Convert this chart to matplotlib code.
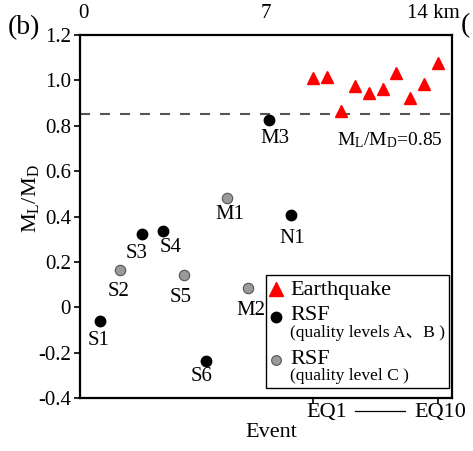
import matplotlib
matplotlib.use("Agg")
import matplotlib.pyplot as plt
from matplotlib.patches import Rectangle
import matplotlib.transforms as mtransforms

plt.rcParams['font.family'] = ['Liberation Serif', 'Noto Sans CJK JP', 'DejaVu Sans']
plt.rcParams['mathtext.fontset'] = 'custom'
plt.rcParams['mathtext.rm'] = 'Liberation Serif'
plt.rcParams['mathtext.it'] = 'Liberation Serif:italic'

# ---- data ----
# RSF events (position along profile in km, M_L/M_D ratio)
rsf_names = ['S1', 'S2', 'S3', 'S4', 'S5', 'S6', 'M1', 'M2', 'M3', 'N1']
rsf_x = [0.65, 1.43, 2.26, 3.05, 3.86, 4.71, 5.51, 6.30, 7.12, 7.95]
rsf_y = [-0.061, 0.163, 0.323, 0.337, 0.141, -0.238, 0.481, 0.084, 0.824, 0.408]
rsf_quality = ['AB', 'C', 'AB', 'AB', 'C', 'AB', 'C', 'C', 'AB', 'AB']
# label offsets (points)
rsf_lab_dx = [-1, -1, -4, 6, -2, -3, 2, 2, 4, 1]
rsf_lab_dy = [-14, -15, -14, -12, -16, -11, -12, -16, -13, -17]

# earthquakes EQ1..EQ10
eq_x = [8.80, 9.33, 9.87, 10.40, 10.94, 11.48, 11.97, 12.51, 13.04, 13.58]
eq_y = [1.010, 1.014, 0.864, 0.974, 0.943, 0.961, 1.032, 0.921, 0.983, 1.076]

threshold = 0.85
yticks = [-0.4, -0.2, 0, 0.2, 0.4, 0.6, 0.8, 1.0, 1.2]
ytick_labels = ['-0.4', '-0.2', '0', '0.2', '0.4', '0.6', '0.8', '1.0', '1.2']
top_ticks = [0, 7]
top_labels = ['0', '7']

fig = plt.figure(figsize=(4.73, 4.51), dpi=100)
ax = fig.add_axes([80/473, 53/451, 372/473, 363/451])

FS = 15
FL = 16

ab_x = [x for x, q in zip(rsf_x, rsf_quality) if q == 'AB']
ab_y = [y for y, q in zip(rsf_y, rsf_quality) if q == 'AB']
c_x = [x for x, q in zip(rsf_x, rsf_quality) if q == 'C']
c_y = [y for y, q in zip(rsf_y, rsf_quality) if q == 'C']

ax.plot(eq_x, eq_y, linestyle='none', marker='^', markersize=8,
        color='#ff0000', markeredgecolor='#ff0000', zorder=3)
ax.plot(ab_x, ab_y, linestyle='none', marker='o', markersize=7.5,
        color='black', zorder=3)
ax.plot(c_x, c_y, linestyle='none', marker='o', markersize=7.5,
        markerfacecolor='#9a9a9a', markeredgecolor='#555555',
        markeredgewidth=0.8, zorder=3)

for n, x, y, dx, dy in zip(rsf_names, rsf_x, rsf_y, rsf_lab_dx, rsf_lab_dy):
    ax.annotate(n, (x, y), xytext=(dx, dy), textcoords='offset points',
                ha='center', va='center', fontsize=FS)

ax.axhline(threshold, color='#555555', linewidth=1.5, dashes=(4.8, 4.8), zorder=1)
ax.text(0.975, 0.735, r'$\mathrm{M_L/M_D}$=0.85',
        transform=mtransforms.blended_transform_factory(ax.transAxes, ax.transData),
        ha='right', va='center', fontsize=14)

ax.set_xlim(-0.115, 14.12)
ax.set_ylim(-0.4, 1.2)
ax.set_yticks(yticks)
ax.set_yticklabels(ytick_labels, fontsize=FS)
ax.set_xticks([eq_x[0], eq_x[-1]])
ax.set_xticklabels(['', ''])
ax.tick_params(direction='out', length=4.5, width=1.2, pad=2)

for s in ax.spines.values():
    s.set_linewidth(1.6)

btr = mtransforms.blended_transform_factory(ax.transData, ax.transAxes)
ax.annotate('EQ1', xy=(eq_x[0], 0), xycoords=btr, xytext=(10, -10.5),
            textcoords='offset points', ha='center', va='center', fontsize=FL,
            annotation_clip=False)
ax.annotate('EQ10', xy=(eq_x[-1], 0), xycoords=btr, xytext=(2, -10.5),
            textcoords='offset points', ha='center', va='center', fontsize=FL,
            annotation_clip=False)

ax.set_ylabel(r'$\mathrm{M_L/M_D}$', fontsize=FL)
ax.yaxis.set_label_coords(-0.105, 0.55)
ax.set_xlabel('Event', fontsize=FL)
ax.xaxis.set_label_coords(0.515, -0.068)

# line between EQ1 and EQ10 labels
ax.plot([(355-80)/372, (405-80)/372], [-13/363, -13/363], transform=ax.transAxes,
        color='black', linewidth=0.9, clip_on=False)

# top distance labels
for t, l in zip(top_ticks, top_labels):
    ax.text(t, 1.06, l, transform=btr, ha='center', va='center', fontsize=FS)
ax.text(1.022, 1.06, '14 km', transform=ax.transAxes, ha='right', va='center', fontsize=FS)

fig.text(24/473, 1 - 28/451, '(b)', ha='center', va='center', fontsize=20)
fig.text(461/473, 1 - 26/451, '(', ha='left', va='center', fontsize=20)

# legend box (manual)
ax.add_patch(Rectangle((0.5, 0.028), 0.492, 0.311, transform=ax.transAxes,
                       facecolor='white', edgecolor='black', linewidth=1.0, zorder=4))
ax.plot([0.527], [(398-289)/363], transform=ax.transAxes, marker='^', markersize=10,
        color='#ff0000', zorder=5, clip_on=False)
ax.plot([0.527], [(398-316.7)/363], transform=ax.transAxes, marker='o', markersize=7.5,
        color='black', zorder=5)
ax.plot([0.527], [(398-360)/363], transform=ax.transAxes, marker='o', markersize=7,
        markerfacecolor='#9a9a9a', markeredgecolor='#555555', markeredgewidth=0.8, zorder=5)
lx = (290-80)/372
ax.text(lx, (398-290)/363, 'Earthquake', transform=ax.transAxes, ha='left', va='center', fontsize=FL, zorder=6)
ax.text(lx, (398-315)/363, 'RSF', transform=ax.transAxes, ha='left', va='center', fontsize=FL, zorder=6)
ax.text(lx, (398-333)/363, '(quality levels A\u3001B )', transform=ax.transAxes, ha='left', va='center', fontsize=12.6, zorder=6)
ax.text(lx, (398-359)/363, 'RSF', transform=ax.transAxes, ha='left', va='center', fontsize=FL, zorder=6)
ax.text(lx, (398-376)/363, '(quality level C )', transform=ax.transAxes, ha='left', va='center', fontsize=12.6, zorder=6)

fig.savefig('out.png', dpi=100)
